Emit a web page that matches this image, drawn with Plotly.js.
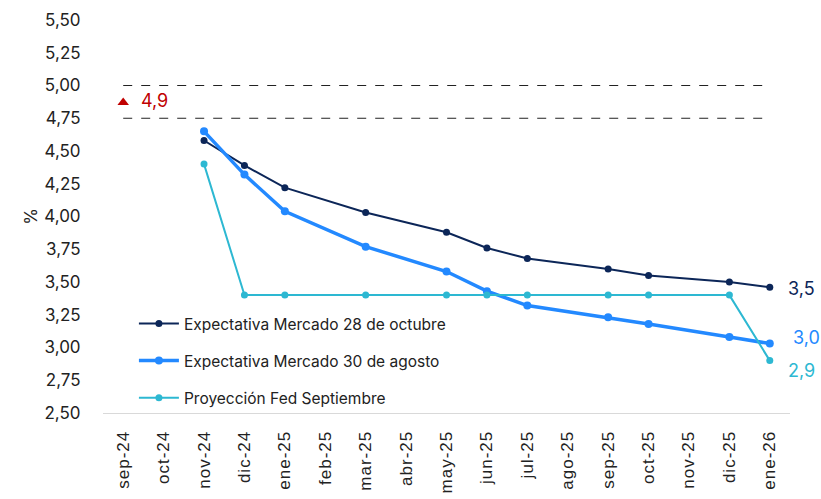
<!DOCTYPE html>
<html><head><meta charset="utf-8">
<script src="https://cdn.plot.ly/plotly-3.0.1.min.js"></script>
<style>html,body{margin:0;padding:0;background:#fff}#c{width:821px;height:499px}
#c .xtick text{letter-spacing:1px}</style>
</head><body><div id="c"></div>
<script>
const months = ["sep-24","oct-24","nov-24","dic-24","ene-25","feb-25","mar-25","abr-25","may-25","jun-25","jul-25","ago-25","sep-25","oct-25","nov-25","dic-25","ene-26"];
const ptMonths = ["nov-24","dic-24","ene-25","mar-25","may-25","jun-25","jul-25","sep-25","oct-25","dic-25","ene-26"];
const mercadoOct = [4.58,4.39,4.22,4.03,3.88,3.76,3.68,3.60,3.55,3.50,3.46];
const mercadoAgo = [4.65,4.32,4.04,3.77,3.58,3.43,3.32,3.23,3.18,3.08,3.03];
const fedSep = [4.40,3.40,3.40,3.40,3.40,3.40,3.40,3.40,3.40,3.40,2.90];
const currentMonth = ["sep-24"];
const currentRate = [4.87];
const currentLabel = "4,9";
const rangeLow = 4.75, rangeHigh = 5.00;
const endLabels = ["3,5","3,0","2,9"];
const names = ["Expectativa Mercado 28 de octubre","Expectativa Mercado 30 de agosto","Proyección Fed Septiembre"];
const cNavy = "#0c2658", cBlue = "#2389ff", cCyan = "#2db8d2", cRed = "#c00000";

const traces = [
  {x: ptMonths, y: mercadoOct, name: names[0], mode: "lines+markers", legendgroup:"a",
   line:{color:cNavy,width:2}, marker:{color:cNavy,size:7}},
  {x: ptMonths, y: mercadoAgo, name: names[1], mode: "lines+markers", legendgroup:"b",
   line:{color:cBlue,width:3.5}, marker:{color:cBlue,size:8}},
  {x: ptMonths, y: fedSep, name: names[2], mode: "lines+markers", legendgroup:"c",
   line:{color:cCyan,width:2}, marker:{color:cCyan,size:7}},
  {x: currentMonth, y: currentRate, mode: "markers", showlegend:false,
   marker:{symbol:"triangle-up", color:cRed, size:10}}
];
const last = ptMonths[ptMonths.length-1];
const layout = {
  width:821, height:499,
  margin:{l:103, r:31, t:20, b:86},
  paper_bgcolor:"#fff", plot_bgcolor:"#fff",
  separators:",.",
  font:{family:"Inter", color:"#222", size:14},
  showlegend:true,
  legend:{x:0.045, y:0.27, xanchor:"left", yanchor:"top", bgcolor:"rgba(0,0,0,0)",
          font:{size:15.5, color:"#222", family:"Inter"}, tracegroupgap:14, itemwidth:40},
  xaxis:{type:"category", categoryorder:"array", categoryarray:months, tickvals:months,
         range:[-0.5,16.5], tickangle:-90, showgrid:false, zeroline:false,
         showline:true, linecolor:"#d9d9d9", linewidth:1,
         ticks:"outside", ticklen:10, tickcolor:"rgba(0,0,0,0)",
         tickfont:{size:17, color:"#222", family:"Liberation Sans, Arial, sans-serif"}},
  yaxis:{range:[2.5,5.5], dtick:0.25, tick0:2.5, tickformat:".2f", showgrid:false, zeroline:false,
         showline:false, ticks:"outside", ticklen:18, tickcolor:"rgba(0,0,0,0)",
         tickfont:{size:17, color:"#222"},
         title:{text:"%", font:{size:17, color:"#222"}, standoff:2}},
  shapes:[
    {type:"line", xref:"x", yref:"y", x0:"sep-24", x1:"ene-26", y0:rangeHigh, y1:rangeHigh,
     line:{color:"#222", width:1, dash:"dash"}},
    {type:"line", xref:"x", yref:"y", x0:"sep-24", x1:"ene-26", y0:rangeLow, y1:rangeLow,
     line:{color:"#222", width:1, dash:"dash"}}
  ],
  annotations:[
    {x:currentMonth[0], y:currentRate[0], text:currentLabel, showarrow:false, xanchor:"left",
     xshift:16, yshift:2, font:{size:18, color:cRed}},
    {x:last, y:mercadoOct[mercadoOct.length-1], text:endLabels[0], showarrow:false, xanchor:"left",
     xshift:16, yshift:-1, font:{size:18, color:cNavy}},
    {x:last, y:mercadoAgo[mercadoAgo.length-1], text:endLabels[1], showarrow:false, xanchor:"left",
     xshift:21, yshift:6, font:{size:18, color:cBlue}},
    {x:last, y:fedSep[fedSep.length-1], text:endLabels[2], showarrow:false, xanchor:"left",
     xshift:16, yshift:-10, font:{size:18, color:cCyan}}
  ]
};
Plotly.newPlot("c", traces, layout, {displayModeBar:false, staticPlot:true});
</script></body></html>
